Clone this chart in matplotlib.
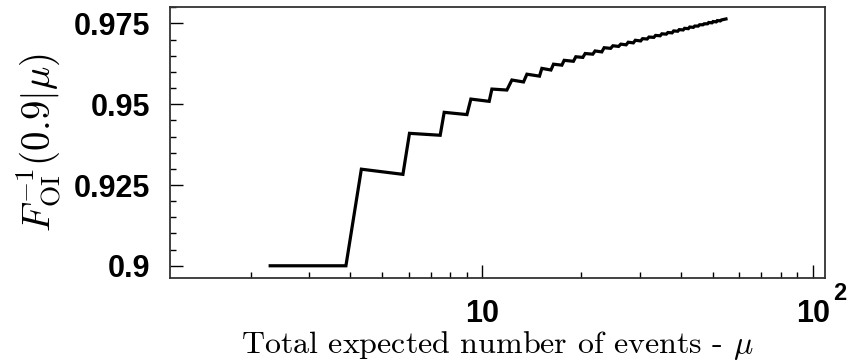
import matplotlib
matplotlib.use("Agg")
import matplotlib.pyplot as plt
import matplotlib.ticker as ticker
import matplotlib.transforms as mtransforms

plt.rcParams["font.family"] = ["Liberation Sans", "DejaVu Sans"]
plt.rcParams["axes.unicode_minus"] = False

# ---------------------------------------------------------------------------
# Data
# ---------------------------------------------------------------------------
mu = [2.29, 3.88, 4.32, 5.77, 6.04, 7.48, 7.69, 9.01, 9.26, 10.52,
      10.72, 11.90, 12.32, 13.36, 13.68, 14.93, 15.18, 16.17, 16.46, 17.45,
      17.73, 18.91, 19.23, 20.19, 20.52, 21.64, 21.99, 23.04, 23.42, 24.5,
      24.9, 25.9, 26.3, 27.3, 27.7, 28.7, 29.1, 30.2, 30.6, 31.6,
      32.0, 33.1, 33.5, 34.6, 35.0, 36.1, 36.5, 37.6, 38.0, 39.1,
      39.5, 40.6, 41.0, 42.1, 42.5, 43.6, 44.0, 45.1, 45.5, 46.6,
      47.0, 48.1, 48.5, 49.6, 50.0, 51.1, 51.5, 52.6, 53.0, 54.7]
quantile = [0.9, 0.9, 0.9299, 0.9283, 0.9410, 0.9404, 0.9475, 0.9468, 0.9516, 0.9509,
            0.9547, 0.9544, 0.9575, 0.9569, 0.9593, 0.9587, 0.9611, 0.9606, 0.9624, 0.9621,
            0.9636, 0.9633, 0.9647, 0.9645, 0.9657, 0.9655, 0.9665, 0.9662, 0.9675, 0.9673,
            0.9681, 0.9679, 0.9686, 0.9684, 0.9692, 0.9690, 0.9698, 0.9696, 0.9703, 0.9702,
            0.9708, 0.9707, 0.9713, 0.9712, 0.9718, 0.9717, 0.9722, 0.9721, 0.9727, 0.9726,
            0.9731, 0.9730, 0.9735, 0.9734, 0.9739, 0.9738, 0.9742, 0.9742, 0.9746, 0.9746,
            0.9749, 0.9749, 0.9753, 0.9752, 0.9756, 0.9755, 0.9759, 0.9758, 0.9761, 0.9764]

y_ticks = [0.9, 0.925, 0.95, 0.975]
y_tick_labels = ["0.9", "0.925", "0.95", "0.975"]
x_ticks = [10, 100]
x_tick_labels = ["10", "10"]
x_exponent = "2"   # ROOT style "10^2" label at 100

# ---------------------------------------------------------------------------
# Plot
# ---------------------------------------------------------------------------
fig = plt.figure(figsize=(8.5, 3.63), dpi=100)
ax = fig.add_axes([0.2, 0.234, 0.7706, 0.7467])

ax.plot(mu, quantile, color="black", linewidth=2.3, solid_joinstyle="miter")

ax.set_xscale("log")
ax.set_xlim(1.14, 109)
ax.set_ylim(0.8962, 0.9801)

ax.xaxis.set_major_locator(ticker.FixedLocator(x_ticks))
ax.xaxis.set_major_formatter(ticker.FixedFormatter(x_tick_labels))
ax.xaxis.set_minor_locator(ticker.LogLocator(base=10, subs=range(2, 10)))
ax.xaxis.set_minor_formatter(ticker.NullFormatter())

ax.yaxis.set_major_locator(ticker.FixedLocator(y_ticks))
ax.yaxis.set_major_formatter(ticker.FixedFormatter(y_tick_labels))
ax.yaxis.set_minor_locator(ticker.MultipleLocator(0.005))

ax.tick_params(which="both", direction="in", top=False, right=False, width=1.0)
ax.tick_params(which="major", length=9.5)
ax.tick_params(which="minor", length=4.5)
ax.tick_params(axis="y", which="major", pad=14, labelsize=22)
ax.tick_params(axis="x", which="major", pad=15, labelsize=22)
for lab in ax.get_xticklabels() + ax.get_yticklabels():
    lab.set_fontweight("bold")

# exponent of the 10^2 label
trans = mtransforms.blended_transform_factory(ax.transData, ax.transAxes)
ax.annotate(x_exponent, xy=(x_ticks[-1], 0), xycoords=trans,
            xytext=(15, -3), textcoords="offset points",
            ha="left", va="top", fontsize=17, fontweight="bold")

for s in ax.spines.values():
    s.set_linewidth(1.3)
    s.set_color("#333333")

xl = ax.set_xlabel(r"Total expected number of events - $\mu$",
                   fontsize=23, labelpad=0, family="cmr10")
xl.set_math_fontfamily("cm")
yl = ax.set_ylabel(r"$F^{-1}_{\rm OI}(0.9|\mu)$", fontsize=28, labelpad=9)
yl.set_math_fontfamily("cm")

fig.savefig("out.png", dpi=100)
